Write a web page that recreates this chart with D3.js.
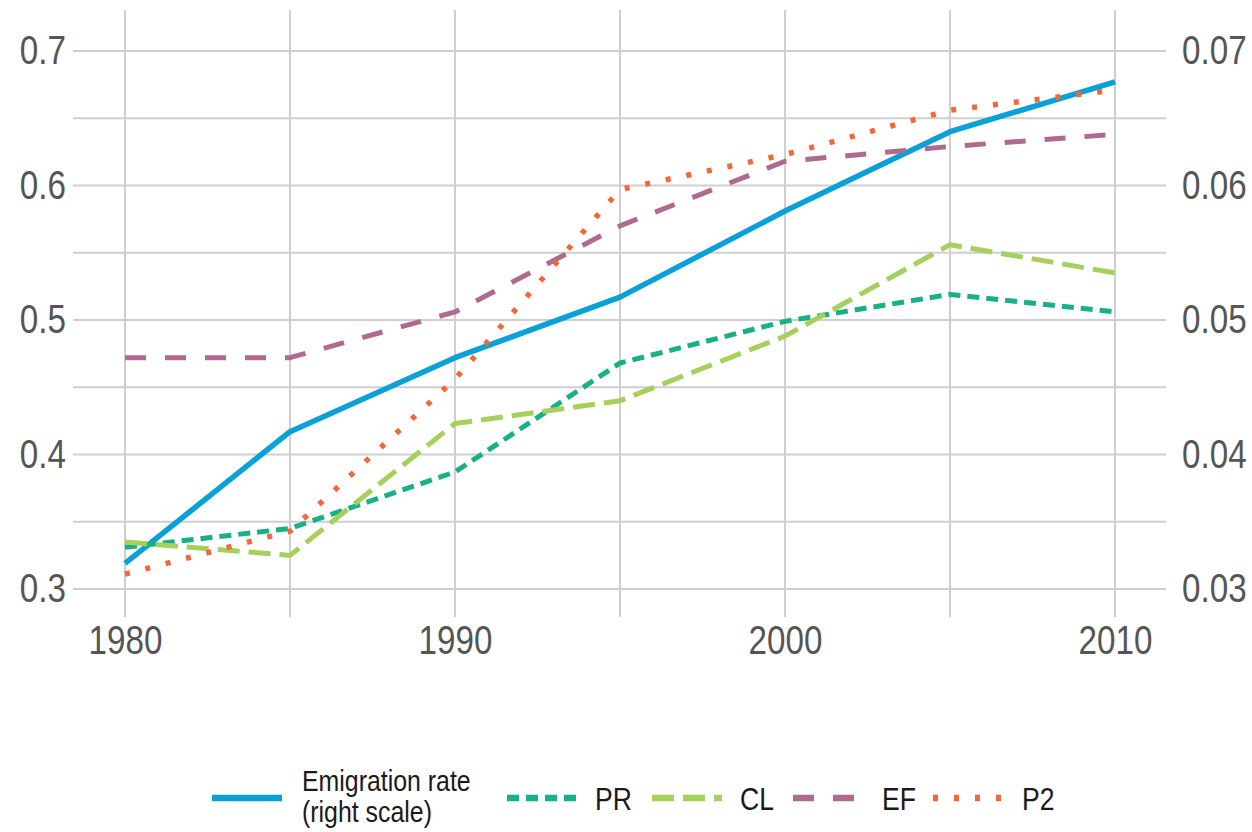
<!DOCTYPE html>
<html>
<head>
<meta charset="utf-8">
<script src="https://cdn.jsdelivr.net/npm/d3@7"></script>
<style>
  html, body { margin: 0; padding: 0; background: #fff; }
  svg { display: block; }
  text { font-family: "Liberation Sans", Arial, sans-serif; }
</style>
</head>
<body>
<svg id="chart" width="1252" height="832"></svg>
<script>
const years = [1980, 1985, 1990, 1995, 2000, 2005, 2010];
const emigration = [0.0319, 0.0417, 0.0472, 0.0517, 0.0581, 0.0640, 0.0677];
const PR = [0.331, 0.345, 0.387, 0.468, 0.499, 0.519, 0.506];
const CL = [0.335, 0.325, 0.423, 0.440, 0.488, 0.556, 0.535];
const EF = [0.472, 0.472, 0.506, 0.570, 0.618, 0.629, 0.638];
const P2 = [0.311, 0.343, 0.456, 0.597, 0.623, 0.656, 0.671];
const xTicks = [1980, 1990, 2000, 2010];
const leftTicks = [0.3, 0.4, 0.5, 0.6, 0.7];
const rightTicks = [0.03, 0.04, 0.05, 0.06, 0.07];

const series = [
  { name: "Emigration rate", name2: "(right scale)", values: emigration, axis: "right", color: "#0aa0d8", dash: null, width: 5.5 },
  { name: "PR", values: PR, axis: "left", color: "#17b087", dash: "12,7", width: 5 },
  { name: "CL", values: CL, axis: "left", color: "#a5d05c", dash: "22,9", width: 5 },
  { name: "EF", values: EF, axis: "left", color: "#b06a90", dash: "21,19", width: 5 },
  { name: "P2", values: P2, axis: "left", color: "#f2683a", dash: "5,16", width: 5.5 }
];

const svg = d3.select("#chart");
const plot = { left: 73, right: 1166, top: 10, bottom: 617 };
const narrow = "scale(0.83,1)";

const x = d3.scaleLinear().domain([1980, 2010]).range([125, 1115]);
const yL = d3.scaleLinear().domain([0.3, 0.7]).range([589, 51]);
const yR = d3.scaleLinear().domain([0.03, 0.07]).range([589, 51]);

// grid
const grid = svg.append("g").attr("stroke", "#cfcfcf").attr("stroke-width", 2);
d3.range(1980, 2011, 5).forEach(yr => {
  grid.append("line").attr("x1", x(yr)).attr("x2", x(yr)).attr("y1", plot.top).attr("y2", plot.bottom);
});
d3.range(0.3, 0.7001, 0.05).forEach(v => {
  grid.append("line").attr("x1", plot.left).attr("x2", plot.right).attr("y1", yL(v)).attr("y2", yL(v));
});

// axes labels
const axisColor = "#555555";
const fs = 40;
const gL = svg.append("g").attr("transform", `translate(${plot.left - 7},0)`)
  .call(d3.axisLeft(yL).tickValues(leftTicks).tickSize(0).tickPadding(0).tickFormat(d3.format(".1f")));
const gR = svg.append("g").attr("transform", `translate(${plot.right + 16},0)`)
  .call(d3.axisRight(yR).tickValues(rightTicks).tickSize(0).tickPadding(0).tickFormat(d3.format(".2f")));
const gX = svg.append("g").attr("transform", `translate(0,${plot.bottom + 6})`)
  .call(d3.axisBottom(x).tickValues(xTicks).tickSize(0).tickPadding(0).tickFormat(d3.format("d")));
[gL, gR, gX].forEach(g => {
  g.select(".domain").remove();
  g.selectAll("text").attr("fill", axisColor).style("font-size", fs + "px")
    .attr("x", 0).attr("transform", narrow);
});
gX.selectAll("text").attr("y", 0).attr("dy", "0.78em");

// lines
series.forEach(s => {
  const ys = s.axis === "right" ? yR : yL;
  const line = d3.line().x((d, i) => x(years[i])).y(d => ys(d));
  svg.append("path")
    .datum(s.values)
    .attr("d", line)
    .attr("fill", "none")
    .attr("stroke", s.color)
    .attr("stroke-width", s.width)
    .attr("stroke-dasharray", s.dash)
    .attr("stroke-linejoin", "round");
});

// legend
const legendY = 798;
const legendItems = [
  { s: series[0], x0: 212, x1: 282, tx: 302 },
  { s: series[1], x0: 507, x1: 577, tx: 595 },
  { s: series[2], x0: 652, x1: 722, tx: 740 },
  { s: series[3], x0: 793, x1: 858, tx: 882 },
  { s: series[4], x0: 933, x1: 1007, tx: 1022 }
];
const lg = svg.append("g");
const legendText = (tx, ty, str, dy, size) => lg.append("g")
  .attr("transform", `translate(${tx},${ty}) ${narrow}`)
  .append("text").attr("x", 0).attr("y", 0).attr("dy", dy || 0).text(str)
  .attr("fill", "#1a1a1a").style("font-size", (size || 32) + "px");
legendItems.forEach(it => {
  lg.append("line")
    .attr("x1", it.x0).attr("x2", it.x1).attr("y1", legendY).attr("y2", legendY)
    .attr("stroke", it.s.color).attr("stroke-width", 6.5)
    .attr("stroke-dasharray", it.s.dash);
  if (it.s.name2) {
    legendText(it.tx, legendY - 7, it.s.name, 0, 30);
    legendText(it.tx, legendY + 24, it.s.name2, 0, 30);
  } else {
    legendText(it.tx, legendY, it.s.name, "0.36em");
  }
});
</script>
</body>
</html>
